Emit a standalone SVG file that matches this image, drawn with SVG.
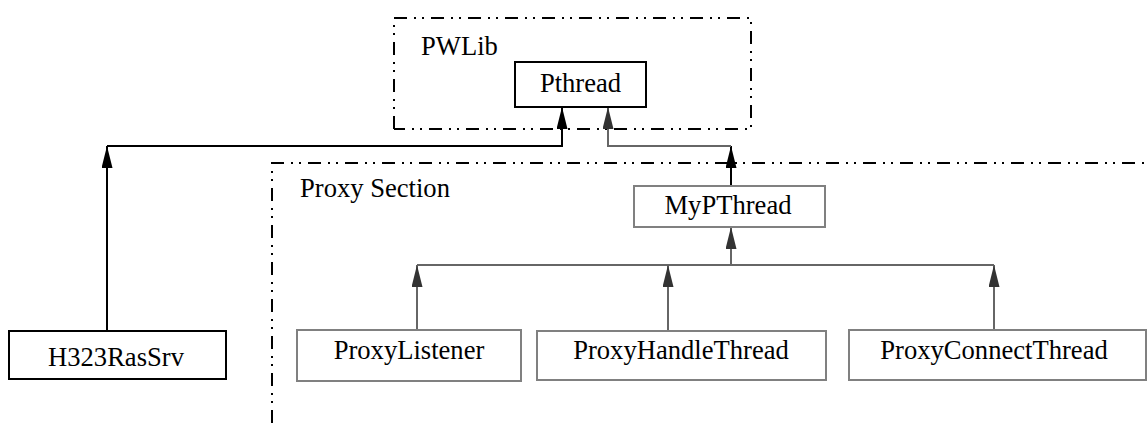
<svg xmlns="http://www.w3.org/2000/svg" width="1148" height="423" viewBox="0 0 1148 423">
<style>
.txt{font-family:"Liberation Serif","Times New Roman",serif;font-size:26.6px;fill:#000}
.pkg{fill:none;stroke:#000;stroke-width:2;stroke-dasharray:13,7,2,6,2,7}
.nb{fill:#fff;stroke:#000;stroke-width:2}
.ng{fill:#fff;stroke:#808080;stroke-width:2}
.cb{fill:none;stroke:#000;stroke-width:2}
.cg{fill:none;stroke:#666;stroke-width:2}
</style>
<defs>
<marker id="ah" markerWidth="22" markerHeight="11" refX="22" refY="5.5" orient="auto" markerUnits="userSpaceOnUse">
<path d="M0,0 L22,5.5 L0,11 Z" fill="#333"/>
</marker>
<marker id="ahb" markerWidth="22" markerHeight="11" refX="22" refY="5.5" orient="auto" markerUnits="userSpaceOnUse">
<path d="M0,0 L22,5.5 L0,11 Z" fill="#000"/>
</marker>
</defs>
<rect width="1148" height="423" fill="#fff"/>
<g id="pkg-pwlib">
<path class="pkg" d="M394,129 L394,18 L751,18 L751,129 L394,129"/>
<text class="txt" x="421" y="55">PWLib</text>
</g>
<g id="pkg-proxy">
<path class="pkg" d="M272,423 L272,163 L1148,163"/>
<text class="txt" x="300" y="197">Proxy Section</text>
</g>
<g id="connectors">
<path class="cb" d="M107,331 L107,146" marker-end="url(#ahb)"/>
<path class="cb" d="M107,146 L562,146 L562,107" marker-end="url(#ahb)"/>
<path class="cb" d="M731,186 L731,146" marker-end="url(#ahb)"/>
<path class="cg" d="M731,146 L608,146 L608,107" marker-end="url(#ah)"/>
<path class="cg" d="M417,265 L994,265"/>
<path class="cg" d="M731,265 L731,227" marker-end="url(#ah)"/>
<path class="cg" d="M417,330 L417,265" marker-end="url(#ah)"/>
<path class="cg" d="M668,331 L668,265" marker-end="url(#ah)"/>
<path class="cg" d="M994,330 L994,265" marker-end="url(#ah)"/>
</g>
<g id="node-pthread">
<rect class="nb" x="515" y="62" width="131" height="45"/>
<text class="txt" x="580.5" y="92" text-anchor="middle">Pthread</text>
</g>
<g id="node-h323rassrv">
<rect class="nb" x="9" y="331" width="217" height="48"/>
<text class="txt" x="116" y="366" text-anchor="middle">H323RasSrv</text>
</g>
<g id="node-mypthread">
<rect class="ng" x="634" y="186" width="191" height="41"/>
<text class="txt" x="728" y="214" text-anchor="middle">MyPThread</text>
</g>
<g id="node-proxylistener">
<rect class="ng" x="297" y="330" width="224" height="51"/>
<text class="txt" x="409" y="359" text-anchor="middle">ProxyListener</text>
</g>
<g id="node-proxyhandlethread">
<rect class="ng" x="537" y="331" width="289" height="49"/>
<text class="txt" x="681" y="359" text-anchor="middle">ProxyHandleThread</text>
</g>
<g id="node-proxyconnectthread">
<rect class="ng" x="849" y="330" width="297" height="50"/>
<text class="txt" x="994" y="359" text-anchor="middle">ProxyConnectThread</text>
</g>
</svg>
